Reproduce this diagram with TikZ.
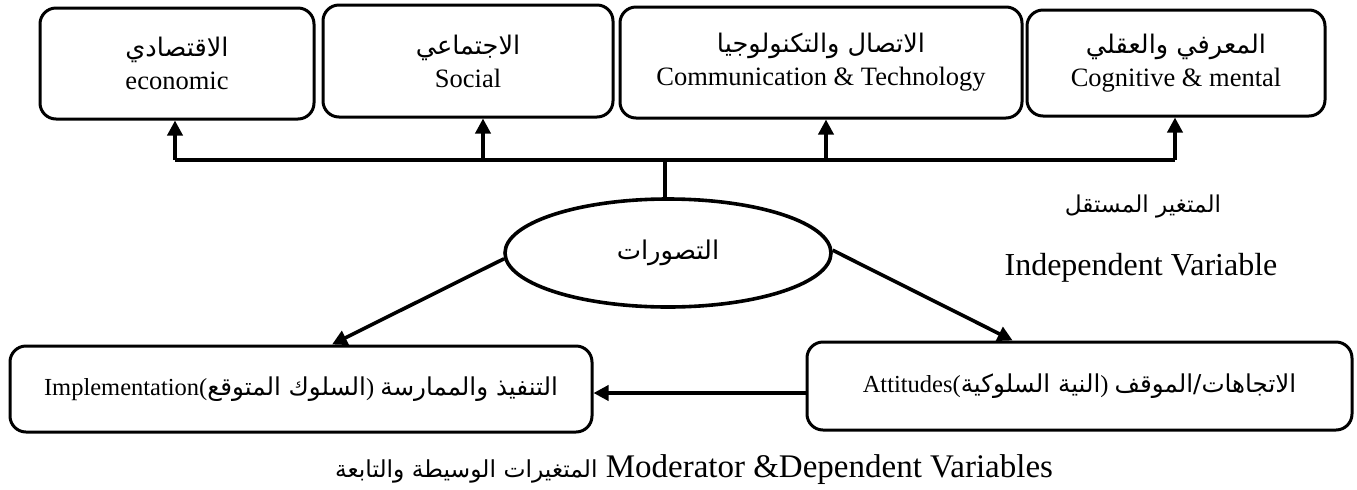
\documentclass[tikz,border=0pt]{standalone}
\usepackage{fontspec}
\setmainfont{Liberation Serif}
\newfontfamily\arfont[Script=Arabic]{DejaVu Sans}
\TeXXeTstate=1
% \AR{size in pt}{arabic text}
\newcommand{\AR}[2]{{\fontsize{#1pt}{16.5pt}\selectfont\arfont\beginR #2\endR}}
\usetikzlibrary{shapes.geometric,arrows.meta,calc}
\begin{document}
\begin{tikzpicture}[x=0.5pt,y=-0.5pt,
  box/.style={draw,line width=1.5pt,rounded corners=8pt,align=center,inner sep=0pt},
  topbox/.style={box,font=\fontsize{13.25}{16.5}\selectfont},
  botbox/.style={box,font=\fontsize{12.25}{15}\selectfont},
  conn/.style={line width=1.8pt},
  arr/.style={conn,-{Triangle[length=7.5pt,width=7.5pt]}},
  bigtext/.style={inner sep=0pt,font=\fontsize{16.5}{19}\selectfont},
]
\useasboundingbox (0,0) rectangle (1357,489);

% top boxes
\node[topbox,minimum width=137pt,minimum height=55.5pt] (econ) at (177,63.5) {\AR{12.8}{الاقتصادي}\\economic};
\node[topbox,minimum width=145pt,minimum height=56pt] (soc) at (468,61) {\AR{12.8}{الاجتماعي}\\Social};
\node[topbox,minimum width=201pt,minimum height=55.5pt] (comm) at (821,62.5) {\AR{12.8}{الاتصال والتكنولوجيا}\\Communication \& Technology};
\node[topbox,minimum width=149pt,minimum height=53pt] (cog) at (1176,63) {\AR{12.8}{المعرفي والعقلي}\\Cognitive \& mental};

% central ellipse
\node[ellipse,draw,line width=1.8pt,minimum width=163pt,minimum height=54pt,inner sep=0pt] (ell) at (668,253) {\AR{12.9}{التصورات}};

% bottom boxes
\node[botbox,minimum width=291pt,minimum height=43pt] (lbox) at (301,389)
  {Implementation(\AR{12.3}{السلوك المتوقع}) \AR{12.3}{التنفيذ والممارسة}};
\node[botbox,minimum width=272.5pt,minimum height=44pt] (rbox) at (1079.5,386)
  {Attitudes(\AR{12.3}{النية السلوكية}) \AR{12.3}{الاتجاهات/الموقف}};

% labels
\node[bigtext] (ivar) at (1143,207) {\AR{11.6}{المتغير المستقل}};
\node[bigtext,font=\fontsize{16}{19}\selectfont] (ivaren) at (1141,268) {Independent Variable};
\node[bigtext] (cap) at (694,470) {\AR{11.7}{المتغيرات الوسيطة والتابعة} Moderator \&Dependent Variables};

% bus to top boxes
\coordinate (a1) at (175,160);
\coordinate (a2) at (483,160);
\coordinate (a3) at (826,160);
\coordinate (a4) at (1175,160);
\coordinate (j) at (665,160);
\draw[line width=2pt] (a1) -- (a4);
\draw[arr] (a1) -- (a1 |- econ.south);
\draw[arr] (a2) -- (a2 |- soc.south);
\draw[arr] (a3) -- (a3 |- comm.south);
\draw[arr] (a4) -- (a4 |- cog.south);
\draw[conn] (j) -- (j |- ell.north);

% arrows from ellipse
\draw[arr] (ell.182.5) -- ($(lbox.north west)!0.553!(lbox.north east)$);
\draw[arr] (ell.1) -- ($(rbox.north west)!0.378!(rbox.north east)$);

% attitudes -> implementation
\coordinate (hy) at (0,393);
\draw[arr] (rbox.west |- hy) -- (lbox.east |- hy);
\end{tikzpicture}
\end{document}
